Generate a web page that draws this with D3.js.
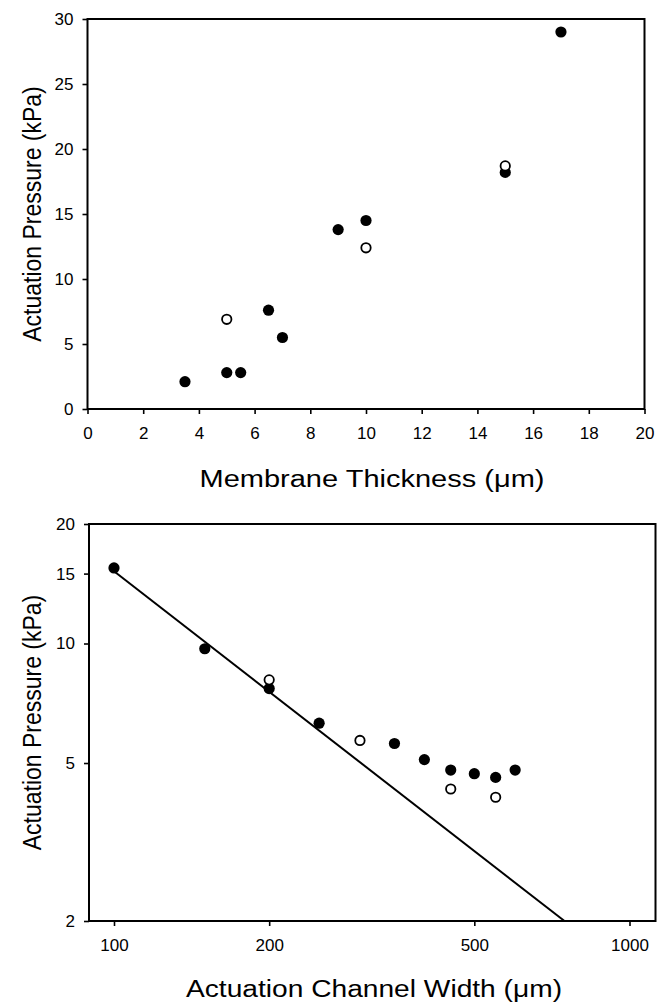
<!DOCTYPE html>
<html>
<head>
<meta charset="utf-8">
<script src="https://cdn.jsdelivr.net/npm/d3@7"></script>
<style>
  html, body { margin: 0; padding: 0; background: #fff; }
  svg { display: block; }
  text { font-family: "Liberation Sans", Arial, sans-serif; fill: #000; }
</style>
</head>
<body>
<svg id="chart" width="666" height="1004"></svg>
<script>
// ---------- data ----------
// Top panel: membrane thickness (µm) vs actuation pressure (kPa)
const thicknessFilled = [3.5, 5, 5.5, 6.5, 7, 9, 10, 15, 17];
const pressureFilledA = [2.1, 2.8, 2.8, 7.6, 5.5, 13.8, 14.5, 18.2, 29];
const thicknessOpen = [5, 10, 15];
const pressureOpenA = [6.9, 12.4, 18.7];
const topXTicks = [0, 2, 4, 6, 8, 10, 12, 14, 16, 18, 20];
const topYTicks = [0, 5, 10, 15, 20, 25, 30];

// Bottom panel: actuation channel width (µm) vs actuation pressure (kPa), log-log
const widthFilled = [100, 150, 200, 250, 350, 400, 450, 500, 550, 600];
const pressureFilledB = [15.5, 9.7, 7.7, 6.3, 5.6, 5.1, 4.8, 4.7, 4.6, 4.8];
const widthOpen = [200, 300, 450, 550];
const pressureOpenB = [8.1, 5.7, 4.3, 4.1];
const fitWidth = [100, 748];
const fitPressure = [15.2, 2.0];
const botXTicks = [100, 200, 500, 1000];
const botYTicks = [2, 5, 10, 15, 20];

const yTitle = "Actuation Pressure (kPa)";
const topXTitle = "Membrane Thickness (\u03bcm)";
const botXTitle = "Actuation Channel Width (\u03bcm)";

// ---------- drawing ----------
const svg = d3.select("#chart");
const R = 5.6;

function frame(g, x0, x1, y0, y1) {
  g.append("rect").attr("x", x0).attr("y", y0)
    .attr("width", x1 - x0).attr("height", y1 - y0)
    .attr("fill", "none").attr("stroke", "#000").attr("stroke-width", 2);
}

function styleAxis(sel) {
  sel.select(".domain").remove();
  sel.selectAll(".tick line").attr("stroke", "#000").attr("stroke-width", 1.6);
  sel.selectAll(".tick text").style("font-size", "17px")
    .style("font-family", "'Liberation Sans', Arial, sans-serif");
}

function points(g, xs, ys, x, y, filled) {
  g.selectAll(null).data(xs.map((d, i) => [d, ys[i]])).enter()
    .append("circle")
    .attr("cx", d => x(d[0])).attr("cy", d => y(d[1]))
    .attr("r", filled ? R : R - 0.9)
    .attr("fill", filled ? "#000" : "#fff")
    .attr("stroke", "#000").attr("stroke-width", filled ? 0 : 1.8);
}

function xTitle(g, cx, y, len, txt) {
  g.append("text").attr("x", cx).attr("y", y)
    .attr("text-anchor", "middle").style("font-size", "23px")
    .attr("textLength", len).attr("lengthAdjust", "spacingAndGlyphs")
    .text(txt);
}

function yLabel(g, cx, cy, txt) {
  g.append("text").attr("transform", `translate(${cx},${cy}) scale(1.15,1) rotate(-90)`)
    .attr("text-anchor", "middle").style("font-size", "23px").text(txt);
}

// ----- top panel -----
{
  const L = 87.5, Rt = 644.5, T = 19, B = 409;
  const x = d3.scaleLinear().domain([0, 20]).range([L, Rt]);
  const y = d3.scaleLinear().domain([0, 30]).range([B, T]);
  const g = svg.append("g");

  const xa = g.append("g").attr("transform", `translate(0,${B})`)
    .call(d3.axisBottom(x).tickValues(topXTicks).tickSize(5).tickPadding(13).tickFormat(d3.format("d")));
  styleAxis(xa);
  const ya = g.append("g").attr("transform", `translate(${L},0)`)
    .call(d3.axisLeft(y).tickValues(topYTicks).tickSize(5).tickPadding(9).tickFormat(d3.format("d")));
  styleAxis(ya);
  frame(g, L, Rt, T, B);

  points(g, thicknessFilled, pressureFilledA, x, y, true);
  points(g, thicknessOpen, pressureOpenA, x, y, false);

  xTitle(g, 372, 487, 345, topXTitle);
  yLabel(g, 41, (T + B) / 2, yTitle);
}

// ----- bottom panel -----
{
  const L = 89, Rt = 655.5, T = 524, B = 921;
  const x = d3.scaleLog().domain([100, 1000]).range([114, 629.5]);
  const y = d3.scaleLog().domain([2, 20]).range([B, T]);
  const g = svg.append("g");

  const xa = g.append("g").attr("transform", `translate(0,${B})`)
    .call(d3.axisBottom(x).tickValues(botXTicks).tickSize(5).tickPadding(13).tickFormat(d3.format("d")));
  styleAxis(xa);
  const ya = g.append("g").attr("transform", `translate(${L},0)`)
    .call(d3.axisLeft(y).tickValues(botYTicks).tickSize(5).tickPadding(9).tickFormat(d3.format("d")));
  styleAxis(ya);
  frame(g, L, Rt, T, B);

  const line = d3.line().x(d => x(d[0])).y(d => y(d[1]));
  g.append("path").datum(fitWidth.map((d, i) => [d, fitPressure[i]]))
    .attr("d", line).attr("fill", "none").attr("stroke", "#000").attr("stroke-width", 2);

  points(g, widthFilled, pressureFilledB, x, y, true);
  points(g, widthOpen, pressureOpenB, x, y, false);

  xTitle(g, 374, 997, 376, botXTitle);
  yLabel(g, 41, (T + B) / 2, yTitle);
}
</script>
</body>
</html>
